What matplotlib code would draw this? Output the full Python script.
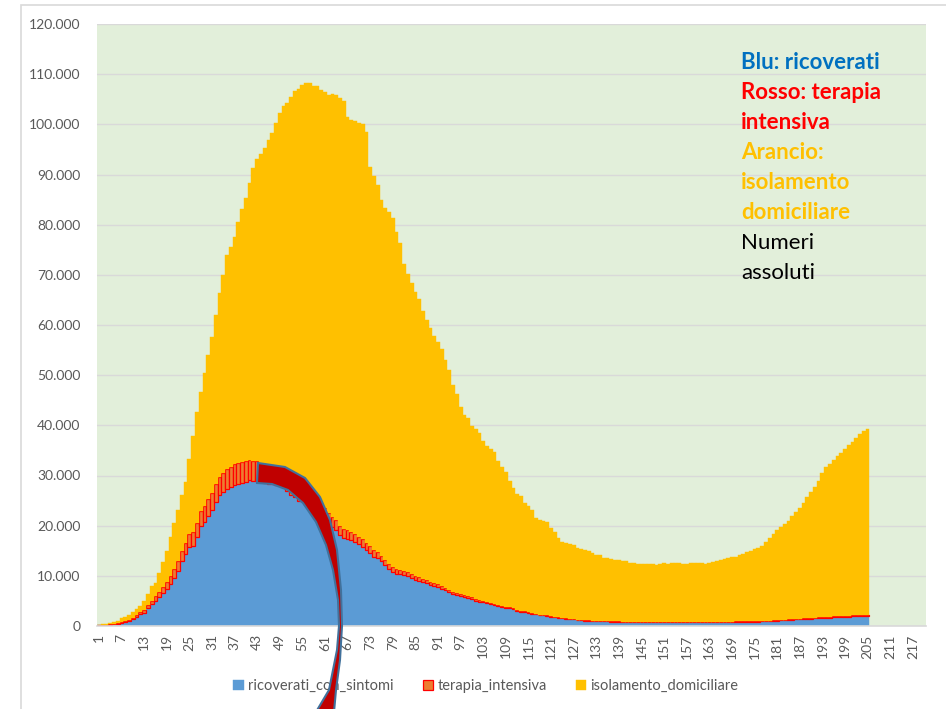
import matplotlib
matplotlib.use("Agg")
import matplotlib.pyplot as plt
from matplotlib.patches import Polygon, Rectangle
from matplotlib.ticker import FuncFormatter

# giorni dal 24 febbraio (giorno 1) al 15 settembre (giorno 205)
ricoverati = [
    101, 114, 128, 248, 345, 401,
    639, 742, 1034, 1346, 1790, 2394, 2651,
    3557, 4316, 5038, 5838, 6650, 7426, 8372,
    9663, 11025, 12894, 14363, 15757, 16020, 17708,
    19846, 20692, 21937, 23112, 24753, 26029, 26676,
    27386, 27795, 28192, 28403,
    28540, 28741, 29010, 28949, 28976, 28718, 28485,
    28399, 28242, 28144, 28023, 27643, 26893, 26033,
    25786, 25007, 24906, 24134, 23805, 22871, 22068,
    21533, 21372, 20353, 19723, 19210, 18149, 17569,
    17357, 17242, 16823, 16270, 15769, 15174, 14636,
    13834, 13618, 12865, 12172, 11453, 10792, 10400,
    10311, 10207, 9991, 9624, 9269, 8957, 8695,
    8613, 8185, 7917, 7729, 7379, 7094, 6680,
    6387, 6099, 5916, 5742,
    5503, 5301, 5002, 4864, 4729, 4581, 4320,
    4131, 3893, 3747, 3594, 3489, 3301, 3047,
    2867, 2749, 2633, 2474, 2314, 2133, 2100,
    1983, 1855, 1729, 1614, 1522, 1489, 1390,
    1311, 1207, 1152, 1089, 1064, 1025, 1005,
    979, 951, 925, 889, 866, 846, 810,
    784, 762, 754, 743, 745, 732, 719,
    701, 712, 705, 716, 713, 731, 724,
    737, 775, 768, 760, 749,
    751, 737, 715, 705, 705, 713, 742,
    772, 793, 802, 834, 845, 854, 855,
    843, 871, 890, 919, 955, 1006, 1049,
    1090, 1120, 1160, 1200, 1250, 1300, 1350,
    1400, 1430, 1460, 1500, 1540, 1580, 1620,
    1660, 1700, 1740, 1780, 1820, 1860, 1900,
    1930, 1960, 1990, 2020,
]

terapia = [
    26, 35, 36, 56, 64, 105,
    140, 166, 229, 295, 351, 462, 567,
    650, 733, 877, 1028, 1153, 1328, 1518,
    1672, 1851, 2060, 2257, 2498, 2655, 2857,
    3009, 3204, 3396, 3489, 3612, 3732, 3856,
    3906, 3981, 4023, 4035,
    4053, 4068, 3994, 3977, 3898, 3792, 3693,
    3605, 3497, 3381, 3343, 3260, 3186, 3079,
    2936, 2812, 2733, 2635, 2573, 2471, 2384,
    2267, 2173, 2102, 2009, 1956, 1863, 1795,
    1694, 1578, 1539, 1501, 1479, 1427, 1333,
    1311, 1168, 1034, 1027, 999, 952, 893,
    855, 808, 775, 762, 749, 716, 676,
    640, 595, 572, 553, 541, 521, 505,
    489, 475, 450, 435,
    424, 408, 353, 338, 316, 293, 287,
    283, 263, 249, 236, 227, 220, 209,
    207, 178, 168, 163, 161, 156, 152,
    148, 127, 115, 107, 103, 94, 87,
    82, 77, 74, 71, 72, 69, 67,
    65, 68, 66, 65, 62, 57, 52,
    52, 49, 48, 45, 41, 40, 41,
    40, 38, 40, 41, 38, 41, 42,
    42, 42, 43, 47, 49,
    49, 51, 54, 55, 55, 58, 58,
    56, 56, 58, 64, 66, 65, 58,
    64, 66, 69, 71, 74, 79, 86,
    94, 107, 109, 121, 133, 142, 140,
    143, 152, 164, 175, 182, 187, 201,
    207, 201, 197, 201, 208, 207, 201,
    205, 210, 215, 220,
]

isolamento = [
    94, 162, 221, 284, 412, 543,
    798, 927, 1000, 1065, 1155, 1060, 1843,
    2180, 2936, 2599, 3724, 5036, 6201, 7860,
    9268, 10197, 11108, 12090, 14935, 19185, 22116,
    23783, 26522, 28697, 30920, 33648, 36653, 39533,
    42588, 43752, 45420, 48134,
    50456, 52579, 55270, 58320, 60313, 61557, 63084,
    64873, 66534, 68744, 70887, 72713, 74212, 76306,
    77885, 79143, 80132, 81488, 81859, 82367, 83247,
    83048, 82982, 83392, 84371, 84647, 85193, 85293,
    82500, 82123, 82342, 82408, 82732, 81866, 75559,
    74479, 73175, 70943, 70125, 70036, 69522, 67164,
    65274, 61055, 59421, 57965, 56535, 55456, 53381,
    51707, 50542, 49263, 48312, 47380, 45327, 43781,
    41110, 39601, 37325, 35898,
    35440, 34184, 33942, 33227, 31931, 31003, 30655,
    30316, 28716, 27714, 26807, 25281, 23964, 23018,
    22835, 21642, 21124, 20464, 19068, 18923, 18720,
    18506, 17591, 16811, 15917, 15056, 14913, 14823,
    14707, 14279, 14029, 13900, 13748, 13527, 13170,
    13056, 12576, 12468, 12349, 12251, 12254, 12057,
    12058, 11845, 11691, 11668, 11618, 11668, 11541,
    11627, 11498, 11577, 11725, 11691, 11809, 11843,
    11786, 11587, 11645, 11758, 11848,
    11849, 11828, 11687, 11722, 11933, 12153, 12305,
    12540, 12635, 12854, 12893, 13170, 13487, 13820,
    14070, 14423, 14610, 15024, 15697, 16553, 17303,
    17916, 18473, 19031, 19579, 20617, 21358, 22110,
    22957, 24118, 25176, 26125, 27178, 28633, 29879,
    30433, 31199, 31863, 32519, 33172, 33933, 34599,
    35265, 36030, 36595, 36960,
]

giorni = list(range(1, len(ricoverati) + 1))
tick_giorni = list(range(1, 218, 6))

BLU = "#5B9BD5"
ARANCIO = "#ED7D31"
GIALLO = "#FFC000"
SFONDO = "#E2EFDA"
GRIGIO = "#595959"

plt.rcParams["font.family"] = ["Lato", "DejaVu Sans"]

W, H = 946, 709
fig = plt.figure(figsize=(W / 100, H / 100), dpi=100)

# cornice grigia del grafico (tagliata a destra e in basso)
fig.patches.append(Rectangle((21 / W, -0.05), 1.2, 1 - 5 / H + 0.05, transform=fig.transFigure,
                             fill=False, edgecolor="#D9D9D9", lw=1.2))

ax = fig.add_axes([97 / W, 1 - 626 / H, (926 - 97) / W, (626 - 24) / H])
ax.set_facecolor(SFONDO)

base2 = [r + t for r, t in zip(ricoverati, terapia)]
b1 = ax.bar(giorni, ricoverati, width=1.0, color=BLU, edgecolor=BLU, lw=0.3, label="ricoverati_con_sintomi")
b2 = ax.bar(giorni, terapia, width=1.0, bottom=ricoverati, color=ARANCIO, edgecolor="#FF0000", lw=0.9,
            label="terapia_intensiva")
b3 = ax.bar(giorni, isolamento, width=1.0, bottom=base2, color=GIALLO, edgecolor=GIALLO, lw=0.3,
            label="isolamento_domiciliare")

ax.set_xlim(0.5, 220.5)
ax.set_ylim(0, 120000)
ax.set_yticks(range(0, 120001, 10000))
ax.yaxis.set_major_formatter(FuncFormatter(lambda v, p: f"{int(v):,}".replace(",", ".")))
ax.set_xticks(tick_giorni)
ax.set_xticklabels([str(g) for g in tick_giorni], rotation=90)
ax.tick_params(length=0, colors=GRIGIO, labelsize=10)
ax.tick_params(axis="y", pad=12)
ax.tick_params(axis="x", pad=6)
ax.yaxis.grid(True, color="#D9D9D9", lw=1)
ax.set_axisbelow(True)
for s in ["top", "left", "right"]:
    ax.spines[s].set_visible(False)
ax.spines["bottom"].set_color("#D9D9D9")
ax.spines["bottom"].set_linewidth(1.2)

leg = fig.legend(handles=[b1, b2, b3], loc="center", bbox_to_anchor=(486 / W, 1 - 686 / H), ncol=3,
                 frameon=False, fontsize=10.5, handlelength=0.7, handleheight=0.7, handletextpad=0.3,
                 columnspacing=2.0)
for t in leg.get_texts():
    t.set_color(GRIGIO)

# testo di spiegazione in alto a destra
righe = [
    ("Blu: ricoverati", "#0070C0", "bold"),
    ("Rosso: terapia", "#FF0000", "bold"),
    ("intensiva", "#FF0000", "bold"),
    ("Arancio:", GIALLO, "bold"),
    ("isolamento", GIALLO, "bold"),
    ("domiciliare", GIALLO, "bold"),
    ("Numeri", "black", "normal"),
    ("assoluti", "black", "normal"),
]
for i, (testo, col, peso) in enumerate(righe):
    fig.text(741 / W, 1 - (69 + 30 * i) / H, testo, color=col, fontweight=peso, fontsize=16,
             ha="left", va="baseline")

# freccia curva rossa disegnata sopra il grafico
esterno = [(258, 463), (285, 467), (305, 478), (320, 497), (330, 520), (337, 550), (341, 590),
           (342, 626), (340, 660), (336, 690), (334, 712)]
interno = [(316, 712), (329, 690), (337, 650), (339, 626), (338, 600), (333, 570), (326, 545),
           (316, 522), (303, 503), (288, 490), (272, 484), (257, 483)]
punti = [(x / W, 1 - y / H) for x, y in esterno + interno]
fig.patches.append(Polygon(punti, closed=True, transform=fig.transFigure, facecolor="#C00000",
                           edgecolor="#41719C", lw=1.5, zorder=10))

fig.savefig("out.png", dpi=100)
